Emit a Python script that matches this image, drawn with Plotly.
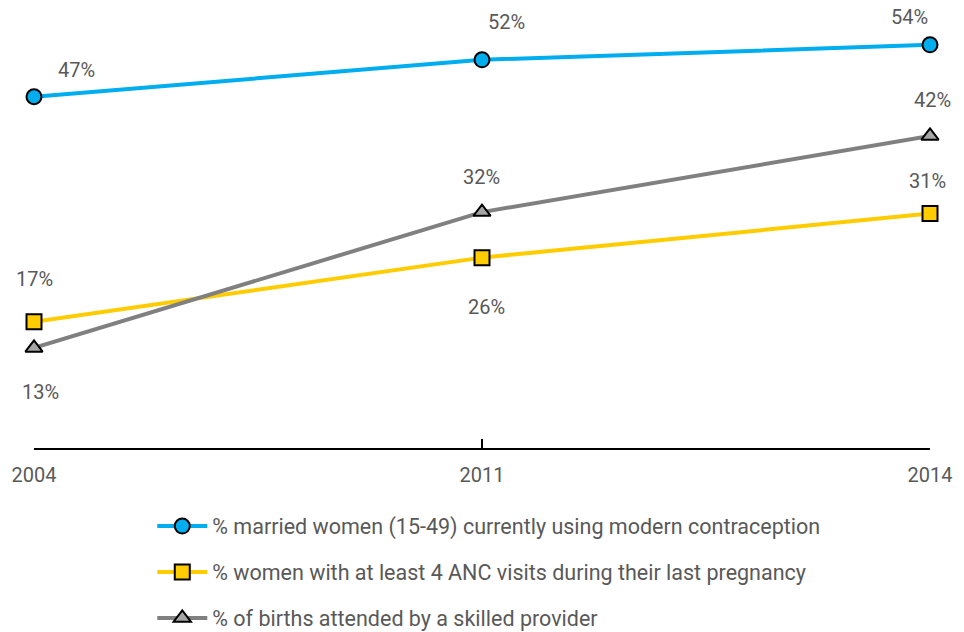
import plotly.graph_objects as go

years = ["2004", "2011", "2014"]
contraception = [47.05, 52.0, 54.0]
anc_visits = [16.9, 25.5, 31.4]
skilled_birth = [13.4, 31.6, 41.8]

names = [
    "% married women (15-49) currently using modern contraception",
    "% women with at least 4 ANC visits during their last pregnancy",
    "% of births attended by a skilled provider",
]

FONT = "Roboto"
TXT = "#595959"

series = [
    (names[0], contraception, "#00AEEF", "circle", "#00AEEF"),
    (names[1], anc_visits, "#FFCC00", "square", "#FFCC00"),
    (names[2], skilled_birth, "#808080", "triangle-up", "#A6A6A6"),
]

# label offsets (px) per series, per point
label_offsets = [
    [(42, 27), (24, 38), (-21, 28)],
    [(0, 43), (4, -49), (-3, 33)],
    [(6, -44), (-1, 35), (2, 36)],
]

fig = go.Figure()
annotations = []
for i, (nm, vals, col, sym, fill) in enumerate(series):
    fig.add_trace(go.Scatter(
        x=years, y=vals, name=nm, mode="lines+markers",
        line=dict(color=col, width=4),
        marker=dict(symbol=sym, size=15, color=fill, line=dict(color="black", width=2)),
        legendgroup=f"g{i}", cliponaxis=False,
    ))
    for j, v in enumerate(vals):
        dx, dy = label_offsets[i][j]
        annotations.append(dict(
            x=j, y=v, xref="x", yref="y", text=f"{round(v)}%", showarrow=False,
            xshift=dx, yshift=dy, font=dict(family=FONT, size=20, color=TXT),
        ))

fig.update_layout(
    width=964, height=632,
    margin=dict(l=34, r=34, t=15, b=184, autoexpand=False),
    plot_bgcolor="white", paper_bgcolor="white",
    showlegend=True,
    legend=dict(
        x=0.132, y=-0.133, xanchor="left", yanchor="top",
        orientation="v", tracegroupgap=15,
        font=dict(family=FONT, size=21.5, color=TXT),
        itemwidth=50,
    ),
    annotations=annotations,
    xaxis=dict(
        type="category", range=[0, 2], showgrid=False, zeroline=False,
        showline=True, linecolor="black", linewidth=2,
        ticks="inside", ticklen=9, tickwidth=2, tickcolor="black",
        tickfont=dict(family=FONT, size=20, color=TXT),
        ticklabelstandoff=8, automargin=False,
    ),
    yaxis=dict(range=[0, 58], visible=False, showgrid=False, zeroline=False, automargin=False),
)

fig.write_html(
    "out.html",
    config={"displayModeBar": False},
    post_script="document.body.style.margin='0px';document.body.style.overflow='hidden';",
)
